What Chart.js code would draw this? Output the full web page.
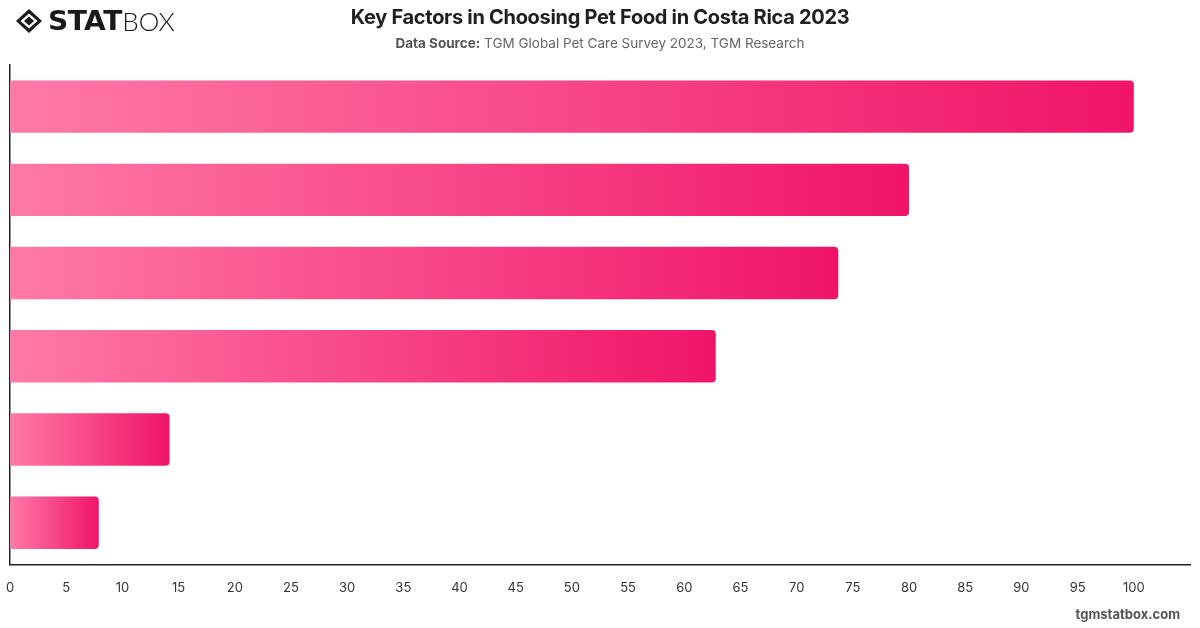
<!DOCTYPE html>
<html>
<head>
<meta charset="utf-8">
<script src="https://cdn.jsdelivr.net/npm/chart.js@4.4.1/dist/chart.umd.min.js"></script>
<style>
  html, body { margin:0; padding:0; background:#fff; }
  #wrap { position:relative; width:1200px; height:628px; font-family: Inter, "Noto Sans", sans-serif; }
  #c { position:absolute; left:0; top:0; }
  .title { position:absolute; left:0; width:1200px; top:5px; text-align:center; font-size:20px; font-weight:700; color:#1f1f1f; letter-spacing:-0.3px; }
  .sub { position:absolute; left:0; width:1200px; top:35px; text-align:center; font-size:13.5px; color:#666; }
  .sub b { font-weight:700; color:#555; }
  .logo { position:absolute; left:15px; top:6px; height:30px; display:flex; align-items:center; }
  .logo .stat { font-family: "DejaVu Sans", sans-serif; font-weight:900; font-size:26px; color:#1a1a1a; letter-spacing:-0.5px; margin-left:5px; transform:scaleX(1.08); transform-origin:left; display:inline-block; margin-right:6px; }
  .logo .box { font-family: Lato, "Open Sans", sans-serif; font-weight:300; font-size:26px; color:#1a1a1a; letter-spacing:0px; }
  .wm { position:absolute; right:20px; top:606px; font-size:13px; font-weight:700; color:#555; }
</style>
</head>
<body>
<div id="wrap">
  <canvas id="c" width="1200" height="628"></canvas>
  <div class="logo">
    <svg width="28" height="26" viewBox="0 0 28 26">
      <polygon points="14,1 27,13 14,25 1,13" fill="#1a1a1a"/>
      <polygon points="14,5.5 22.5,13 14,20.5 5.5,13" fill="#fff"/>
      <polygon points="14,8.5 19,13 14,17.5 9,13" fill="#1a1a1a"/>
    </svg>
    <span class="stat">STAT</span><span class="box">BOX</span>
  </div>
  <div class="title">Key Factors in Choosing Pet Food in Costa Rica 2023</div>
  <div class="sub"><b>Data Source:</b> TGM Global Pet Care Survey 2023, TGM Research</div>
  <div class="wm">tgmstatbox.com</div>
</div>
<script>
const categories = ["Factor 1", "Factor 2", "Factor 3", "Factor 4", "Factor 5", "Factor 6"];
const values = [100, 80, 73.7, 62.8, 14.2, 7.9];
const xTicks = [0,5,10,15,20,25,30,35,40,45,50,55,60,65,70,75,80,85,90,95,100];

function barGradient(ctx) {
  const chart = ctx.chart;
  const area = chart.chartArea;
  if (!area || ctx.dataIndex === undefined) return '#f5407f';
  const xs = chart.scales.x;
  const x0 = xs.getPixelForValue(0);
  const x1 = xs.getPixelForValue(values[ctx.dataIndex]);
  const g = chart.ctx.createLinearGradient(x0, 0, Math.max(x1, x0 + 1), 0);
  g.addColorStop(0, '#ff7aa7');
  g.addColorStop(1, '#f01468');
  return g;
}

new Chart(document.getElementById('c'), {
  type: 'bar',
  data: {
    labels: categories,
    datasets: [{
      data: values,
      backgroundColor: barGradient,
      borderRadius: 4,
      borderSkipped: 'start',
      barPercentage: 0.7,
      categoryPercentage: 0.9
    }]
  },
  options: {
    indexAxis: 'y',
    responsive: false,
    animation: false,
    devicePixelRatio: 1,
    layout: { padding: { left: 10, right: 10, top: 65, bottom: 16 } },
    plugins: { legend: { display: false }, tooltip: { enabled: false } },
    scales: {
      x: {
        min: 0, max: 105,
        grid: { display: false, drawTicks: false },
        border: { display: true, color: '#222', width: 1.5 },
        afterBuildTicks: (axis) => { axis.ticks = xTicks.map(v => ({ value: v })); },
        afterFit: (s) => { s.paddingLeft = 4; s.paddingRight = 4; },
        ticks: { padding: 16, color: '#333', font: { family: 'Inter', size: 13 } }
      },
      y: {
        grid: { display: false, drawTicks: false },
        border: { display: true, color: '#222', width: 1.5 },
        ticks: { display: false }
      }
    }
  }
});
</script>
</body>
</html>
